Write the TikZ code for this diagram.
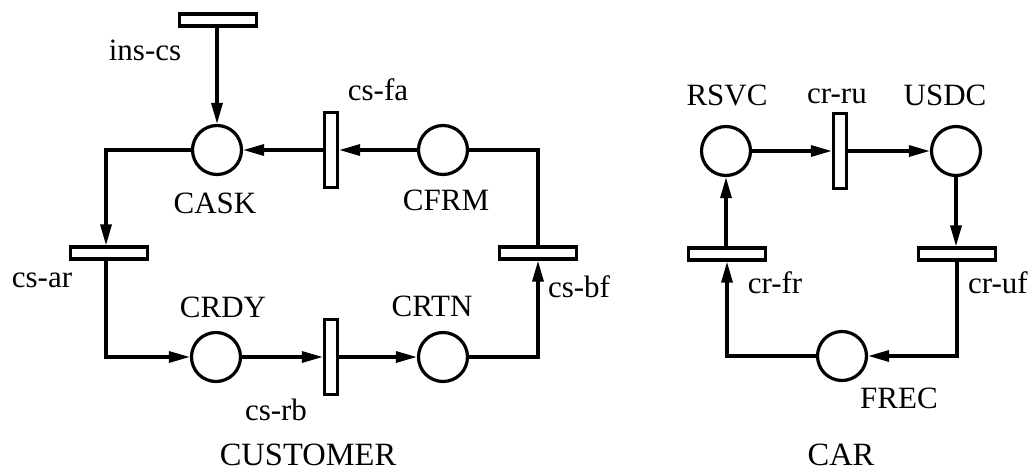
\documentclass[tikz,border=0pt]{standalone}
\usepackage{fontspec}
\setmainfont{Liberation Serif}
\usetikzlibrary{arrows.meta}
\begin{document}
\begin{tikzpicture}[x=1pt,y=-1pt,
  place/.style={circle,draw,line width=3.2pt,minimum size=49pt,inner sep=0pt},
  vtrans/.style={rectangle,draw,line width=3.2pt,minimum width=13pt,minimum height=75pt,inner sep=0pt,fill=white},
  htrans/.style={rectangle,draw,line width=3.2pt,minimum width=77pt,minimum height=12pt,inner sep=0pt,fill=white},
  lbl/.style={anchor=base,font=\fontsize{31}{36}\selectfont,inner sep=0pt},
  ttl/.style={anchor=base,font=\fontsize{32.5}{38}\selectfont,inner sep=0pt},
  flow/.style={line width=3.2pt,-{Triangle[length=21pt,width=11pt]}},
  plainline/.style={line width=3.2pt}]
\useasboundingbox (0,0) rectangle (1034,471);
% CUSTOMER net
\node[htrans] (inscs) at (218,20) {};
\node[place] (cask) at (217,150) {};
\node[vtrans] (csfa) at (331,150) {};
\node[place] (cfrm) at (443,150) {};
\node[htrans] (csbf) at (538,253) {};
\node[htrans] (csar) at (109,253) {};
\node[place] (crdy) at (216,357) {};
\node[vtrans] (csrb) at (331,357) {};
\node[place] (crtn) at (443,357) {};
\coordinate (c1) at (106,150);
\coordinate (c2) at (106,357);
\coordinate (c3) at (538,357);
\coordinate (c4) at (538,150);
\draw[flow] (inscs.south -| cask) -- (cask.north);
\draw[flow] (csfa.west) -- (cask.east);
\draw[flow] (cfrm.west) -- (csfa.east);
\draw[flow] (cask.west) -- (c1) -- (c1 |- csar.north);
\draw[flow] (c1 |- csar.south) -- (c2) -- (crdy.west);
\draw[flow] (crdy.east) -- (csrb.west);
\draw[flow] (csrb.east) -- (crtn.west);
\draw[flow] (crtn.east) -- (c3) -- (csbf.south);
\draw[plainline] (csbf.north) -- (c4) -- (cfrm.east);
\node[lbl] (l1) at (145,60) {ins-cs};
\node[lbl] (l2) at (215,213) {CASK};
\node[lbl] (l3) at (378,100) {cs-fa};
\node[lbl] (l4) at (446,210) {CFRM};
\node[lbl] (l5) at (432,316) {CRTN};
\node[lbl] (l6) at (579,297) {cs-bf};
\node[lbl] (l7) at (223,317) {CRDY};
\node[lbl] (l8) at (276,420) {cs-rb};
\node[lbl] (l9) at (42,287) {cs-ar};
\node[ttl] (t1) at (308,465) {CUSTOMER};
% CAR net
\node[place] (rsvc) at (726,151) {};
\node[vtrans] (crru) at (840,151) {};
\node[place] (usdc) at (956,151) {};
\node[htrans] (cruf) at (957,254) {};
\node[place] (frec) at (842,356) {};
\node[htrans] (crfr) at (727,254) {};
\coordinate (c5) at (957,356);
\coordinate (c6) at (727,356);
\draw[flow] (rsvc.east) -- (crru.west);
\draw[flow] (crru.east) -- (usdc.west);
\draw[flow] (usdc.south) -- (cruf.north -| usdc);
\draw[flow] (cruf.south) -- (c5) -- (frec.east);
\draw[flow] (frec.west) -- (c6) -- (crfr.south);
\draw[flow] (crfr.north -| rsvc) -- (rsvc.south);
\node[lbl] (m1) at (727,105) {RSVC};
\node[lbl] (m2) at (837,103) {cr-ru};
\node[lbl] (m3) at (945,105) {USDC};
\node[lbl] (m4) at (775,293) {cr-fr};
\node[lbl] (m5) at (998,293) {cr-uf};
\node[lbl] (m6) at (899,408) {FREC};
\node[ttl] (t2) at (841,465) {CAR};
\end{tikzpicture}
\end{document}
